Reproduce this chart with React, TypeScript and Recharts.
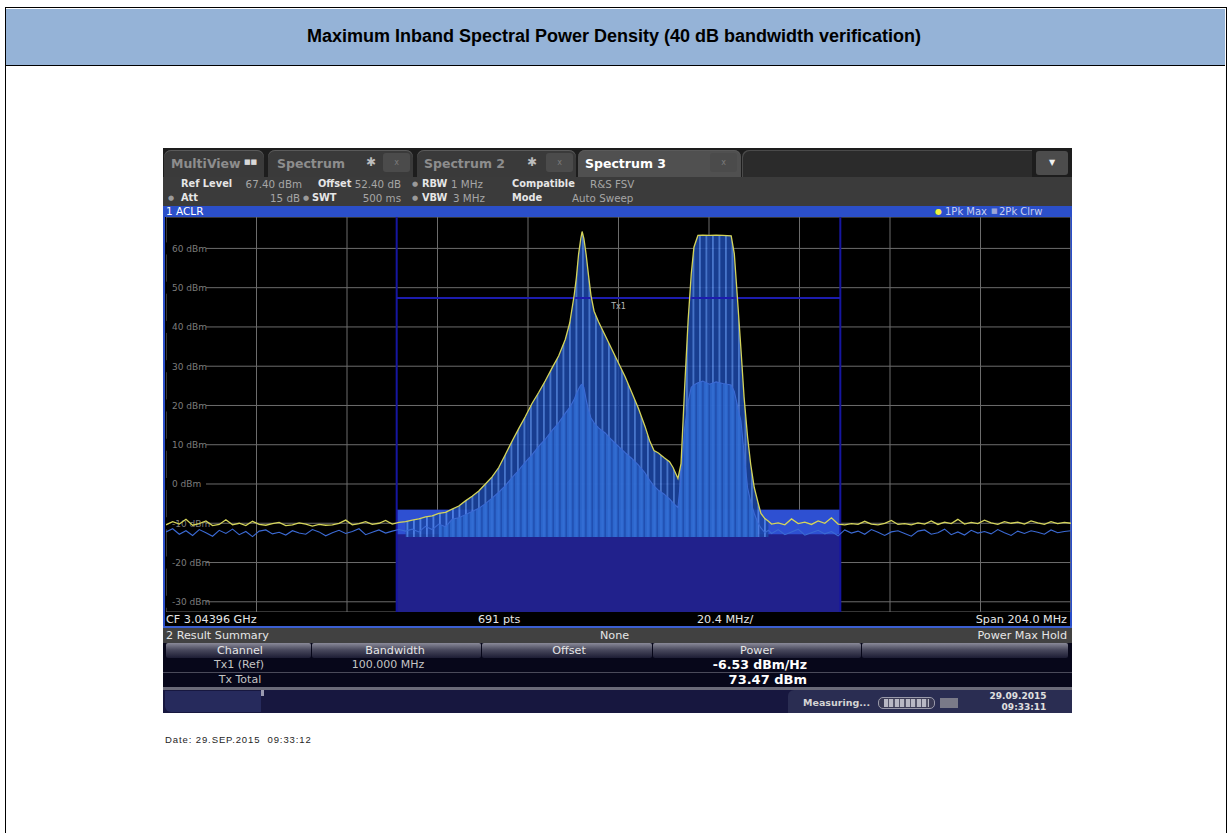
import React from 'react';
import {
  ComposedChart,
  Area,
  Line,
  XAxis,
  YAxis,
  CartesianGrid,
  ReferenceArea,
  ReferenceLine,
} from 'recharts';

// frequency offsets from CF 3.04396 GHz, in MHz (span 204 MHz)
const leftNoiseFreqs = [
  -102, -100.5, -99, -97.5, -96, -94.5, -93, -91.5, -90, -88.5, -87, -85.5, -84, -82.5, -81, -79.5, -78, -76.5,
  -75, -73.5, -72, -70.5, -69, -67.5, -66, -64.5, -63, -61.5, -60, -58.5, -57, -55.5, -54, -52.5, -51, -49.5,
];
const leftNoiseMax = [
  -10.4, -9.6, -10.2, -9.0, -10.5, -10.1, -9.4, -10.6, -10.3, -9.1, -10.4, -10.0, -10.6, -9.5, -10.3, -10.5, -10.1, -9.8,
  -10.6, -10.4, -9.9, -10.2, -10.7, -10.3, -10.5, -10.4, -10.0, -9.2, -10.4, -10.1, -9.6, -10.3, -10.0, -9.3, -10.2, -9.8,
];
const leftNoiseClrw = [
  -12.2, -11.4, -12.8, -11.9, -13.1, -11.6, -12.4, -13.3, -11.8, -12.6, -11.5, -12.9, -12.1, -13.4, -12.0, -11.7, -12.7, -12.3,
  -13.0, -11.9, -12.5, -12.8, -11.6, -12.2, -13.2, -12.4, -11.8, -12.6, -12.1, -11.4, -12.9, -12.3, -11.7, -12.5, -12.0, -11.6,
];

const signalFreqs = [
  -48, -46.5, -45, -43.5, -42, -40.5, -39, -37.5, -36, -34.5, -33, -31.5, -30, -28.5, -27, -25.5, -24, -22.5,
  -21, -19.5, -18, -16.5, -15, -13.5, -12, -11, -10, -9.5, -9, -8.5, -8.2, -7.8, -7.3, -6.8, -6.2, -5.5,
  -4.5, -3, -1.5, 0, 1.5, 3, 4.5, 6, 7, 8, 9, 10.3, 11.5, 12.3, 13.4, 14.1, 14.9, 15.7,
  16.4, 17, 17.9, 19, 20.5, 22, 23.5, 25.4, 26.1, 26.8, 27.6, 28.3, 29.1, 29.8, 30.6, 31.4, 32.1, 33, 33.8,
];
const signalMax = [
  -9.6, -9.2, -8.9, -8.4, -8.1, -7.5, -7.2, -6.4, -5.6, -4.3, -3.1, -1.8, 0.0, 1.8, 4.2, 7.5, 10.9, 14.1,
  17.2, 20.5, 23.3, 26.3, 29.5, 32.6, 36.8, 41.0, 48.0, 52.5, 58.5, 62.5, 64.3, 62.5, 58.5, 53.5, 48.0, 44.0,
  41.3, 37.8, 34.3, 30.8, 27.3, 23.3, 19.2, 14.6, 11.1, 8.5, 7.9, 6.7, 5.7, 4.2, 1.4, 5.2, 24.3, 41.8,
  53.5, 60.3, 63.3, 63.4, 63.3, 63.4, 63.3, 63.2, 58.7, 47.5, 34.3, 22.2, 11.9, 5.0, -0.9, -4.5, -7.5, -8.8, -9.5,
];
const signalClrw = [
  -12.0, -11.5, -12.2, -10.8, -11.6, -10.2, -10.9, -9.0, -8.6, -7.8, -7.0, -6.2, -5.0, -3.6, -2.1, -0.4, 1.6, 3.5,
  5.6, 7.4, 9.6, 11.4, 13.6, 15.6, 18.0, 19.5, 21.5, 23.0, 24.2, 25.2, 25.4, 24.6, 21.5, 19.0, 16.8, 15.6,
  14.3, 13.0, 11.2, 9.6, 8.0, 6.5, 4.8, 2.8, 1.0, -0.5, -1.6, -2.6, -3.8, -4.8, -6.0, 2.0, 14.0, 21.0,
  24.6, 25.2, 25.8, 26.2, 25.4, 26.0, 25.6, 25.2, 23.6, 20.0, 16.0, 8.0, -1.0, -4.5, -7.5, -9.8, -11.2, -12.4, -11.8,
];

const rightNoiseFreqs = [
  34.5, 36, 37.5, 39, 40.5, 42, 43.5, 45, 46.5, 48, 49.5, 51, 52.5, 54, 55.5, 57, 58.5, 60, 61.5, 63, 64.5, 66, 67.5,
  69, 70.5, 72, 73.5, 75, 76.5, 78, 79.5, 81, 82.5, 84, 85.5, 87, 88.5, 90, 91.5, 93, 94.5, 96, 97.5, 99, 100.5, 102,
];
const rightNoiseMax = [
  -10.2, -9.9, -10.4, -8.9, -10.1, -9.7, -10.3, -9.4, -10.0, -8.6, -10.2, -10.4, -10.1, -10.3, -9.5, -10.2, -10.4, -10.0,
  -9.3, -10.3, -10.1, -10.4, -9.9, -10.2, -9.4, -10.3, -9.7, -10.1, -9.0, -10.2, -9.8, -10.1, -9.2, -9.9, -10.3, -9.6,
  -10.0, -9.7, -10.2, -9.4, -9.9, -10.3, -9.6, -10.1, -9.8, -10.0,
];
const rightNoiseClrw = [
  -12.6, -11.6, -12.9, -12.2, -11.5, -13.0, -12.4, -11.8, -12.7, -12.1, -13.2, -11.7, -12.5, -12.0, -12.8, -11.6, -12.3, -13.1,
  -12.2, -11.9, -12.6, -13.3, -12.0, -11.7, -12.8, -12.4, -11.5, -12.9, -12.2, -13.0, -11.8, -12.5, -12.1, -12.7, -11.6, -12.4,
  -13.1, -12.0, -12.6, -11.9, -12.3, -12.8, -11.7, -12.4, -12.1, -11.9,
];

const freqTicks = [-102, -81.6, -61.2, -40.8, -20.4, 0, 20.4, 40.8, 61.2, 81.6, 102];
const levelTicks = [-30, -20, -10, 0, 10, 20, 30, 40, 50, 60];
const refTop = 68;
const refBottom = -32.6;
const channel = [-50, 50];
const txLevel = 47.4;
const powerDensity = -6.53;
const innerRange = [-40.5, 31.4];
const fillFloor = -13.5;

const rows = [
  ...leftNoiseFreqs.map((f, i) => ({ f, maxHold: leftNoiseMax[i], clearWrite: leftNoiseClrw[i] })),
  ...signalFreqs.map((f, i) => ({
    f,
    maxHold: signalMax[i],
    clearWrite: signalClrw[i],
    envelope: signalMax[i],
    inner: f >= innerRange[0] && f <= innerRange[1] ? signalClrw[i] : undefined,
  })),
  ...rightNoiseFreqs.map((f, i) => ({ f, maxHold: rightNoiseMax[i], clearWrite: rightNoiseClrw[i] })),
];

const ui = '"DejaVu Sans", Verdana, sans-serif';

const T = ({ x, y, children, size = 11, color = '#e6e6e6', bold = false, anchor = 'start', font = ui, spacing }: any) => (
  <div
    style={{
      position: 'absolute',
      left: x,
      top: y - size * 0.6,
      fontSize: size,
      lineHeight: `${size * 1.2}px`,
      color,
      fontWeight: bold ? 700 : 400,
      fontFamily: font,
      whiteSpace: 'pre',
      letterSpacing: spacing,
      transform: anchor === 'middle' ? 'translateX(-50%)' : anchor === 'end' ? 'translateX(-100%)' : undefined,
    }}
  >
    {children}
  </div>
);

const Box = ({ x, y, w, h, bg, style }: any) => (
  <div style={{ position: 'absolute', left: x, top: y, width: w, height: h, background: bg, ...style }} />
);

// level label drawn at the left end of a grid line, on a black patch
const LevelLabel = (props: any) => {
  const { viewBox, level } = props;
  if (!viewBox) return null;
  const x = viewBox.x;
  const y = viewBox.y;
  return (
    <g>
      <rect x={x} y={y - 6} width={40} height={12} fill="#000" />
      <text x={x + 6} y={y + 3.3} fill="#7c7c7c" fontSize={9} fontFamily={ui}>
        {`${level} dBm`}
      </text>
    </g>
  );
};

const CloseBox = ({ x }: any) => (
  <div
    style={{
      position: 'absolute', left: x, top: 153, width: 27, height: 19, background: '#4b4b4b',
      borderRadius: 3, color: '#7a7a7a', fontSize: 8, lineHeight: '19px', textAlign: 'center', fontFamily: ui,
    }}
  >
    x
  </div>
);

const Tab = ({ x, w, bg = '#3a3a3a' }: any) => (
  <div
    style={{
      position: 'absolute', left: x, top: 150, width: w, height: 27, background: bg,
      borderRadius: '7px 7px 0 0', boxShadow: 'inset 0 1px 0 #5a5a5a',
    }}
  />
);

const SpectrumPlot = () => (
  <ComposedChart width={905} height={395} data={rows} margin={{ top: 0, right: 0, bottom: 0, left: 0 }}>
    <defs>
      <pattern id="outerStripes" patternUnits="userSpaceOnUse" width="6.5" height="10">
        <rect width="6.5" height="10" fill="#1b45a4" />
        <rect width="1.8" height="10" fill="#5185e6" />
      </pattern>
      <pattern id="innerStripes" patternUnits="userSpaceOnUse" width="6.5" height="10">
        <rect width="6.5" height="10" fill="#2f6bd2" />
        <rect x="3.2" width="1.2" height="10" fill="#1a45a6" />
      </pattern>
    </defs>
    <CartesianGrid stroke="#6c6c6c" strokeWidth={1} />
    <XAxis type="number" dataKey="f" domain={[freqTicks[0], freqTicks[freqTicks.length - 1]]} ticks={freqTicks} hide allowDataOverflow />
    <YAxis type="number" domain={[refBottom, refTop]} ticks={levelTicks} interval={0} hide allowDataOverflow />
    {levelTicks.map((v) => (
      <ReferenceLine key={v} y={v} stroke="none" zIndex={50} label={<LevelLabel level={v} />} />
    ))}
    <ReferenceArea x1={channel[0]} x2={channel[1]} y1={refBottom} y2={powerDensity} fill="#21218c" fillOpacity={1} stroke="none" zIndex={60} />
    <ReferenceArea x1={channel[0]} x2={channel[1]} y1={-12.8} y2={powerDensity} fill="#2e50d2" fillOpacity={1} stroke="none" zIndex={61} />
    <Area
      type="linear"
      dataKey="envelope"
      baseValue={fillFloor}
      fill="url(#outerStripes)"
      fillOpacity={0.88}
      stroke="none"
      dot={false}
      activeDot={false}
      isAnimationActive={false}
      zIndex={100}
    />
    <Area
      type="linear"
      dataKey="inner"
      baseValue={fillFloor}
      fill="url(#innerStripes)"
      fillOpacity={0.88}
      stroke="none"
      dot={false}
      activeDot={false}
      isAnimationActive={false}
      zIndex={101}
    />
    <ReferenceLine x={channel[0]} stroke="#1616a0" strokeWidth={2} zIndex={300} />
    <ReferenceLine x={channel[1]} stroke="#1616a0" strokeWidth={2} zIndex={300} />
    <ReferenceLine
      segment={[{ x: channel[0], y: txLevel }, { x: channel[1], y: txLevel }]}
      stroke="#1c1cae"
      strokeWidth={2}
      zIndex={300}
      label={{ value: 'Tx1', position: 'bottom', fill: '#b8b8b8', fontSize: 8, fontFamily: ui }}
    />
    <Line type="linear" dataKey="clearWrite" stroke="#3b6ad4" strokeWidth={1.1} dot={false} activeDot={false} isAnimationActive={false} zIndex={400} />
    <Line type="linear" dataKey="maxHold" stroke="#d4d45a" strokeWidth={1.3} dot={false} activeDot={false} isAnimationActive={false} zIndex={401} />
  </ComposedChart>
);

export default function App() {
  return (
    <div style={{ position: 'relative', width: 1228, height: 833, background: '#fff', overflow: 'hidden' }}>
      <style>{'body{margin:0}'}</style>
      {/* report frame */}
      <div
        style={{
          position: 'absolute', left: 5, top: 7, width: 1220, height: 840,
          borderLeft: '1.5px solid #000', borderRight: '1.5px solid #000', borderTop: '1.5px solid #000',
        }}
      />
      <Box x={6} y={8.5} w={1219} h={56.5} bg="#95b3d7" style={{ borderBottom: '1.5px solid #000' }} />
      <T x={614} y={37} size={18} bold color="#000" anchor="middle" font='"Liberation Sans", Arial, sans-serif'>
        Maximum Inband Spectral Power Density (40 dB bandwidth verification)
      </T>

      {/* analyzer screen */}
      <Box x={163} y={148} w={909} h={30} bg="#1d1d1d" />
      <Tab x={164} w={100} />
      <T x={171} y={163} size={12.5} bold color="#8d8d8d">MultiView</T>
      <T x={244} y={162} size={7} color="#d8d8d8">■■</T>
      <Tab x={268} w={145} />
      <T x={277} y={163} size={12.5} bold color="#8d8d8d">Spectrum</T>
      <T x={366} y={162} size={12} color="#bdbdbd">✱</T>
      <CloseBox x={383} />
      <Tab x={417} w={159} />
      <T x={424} y={163} size={12.5} bold color="#8d8d8d">Spectrum 2</T>
      <T x={527} y={162} size={12} color="#bdbdbd">✱</T>
      <CloseBox x={546} />
      <Tab x={578} w={163} bg="#505050" />
      <T x={585} y={163} size={12.5} bold color="#ffffff">Spectrum 3</T>
      <CloseBox x={710} />
      <Box x={742} y={150} w={290} h={27} bg="#2b2b2b" style={{ borderRadius: '7px 0 0 0', boxShadow: 'inset 1px 1px 0 #4a4a4a' }} />
      <Box x={1036} y={151} w={32} h={24} bg="#4c4c4c" style={{ borderRadius: 3 }} />
      <T x={1052} y={163} size={8} color="#f0f0f0" anchor="middle">▼</T>

      <Box x={163} y={177} w={909} h={29} bg="#3b3b3b" />
      <T x={181} y={184} size={9.8} bold>Ref Level</T>
      <T x={302} y={184} size={10.3} color="#a6a6a6" anchor="end">67.40 dBm</T>
      <T x={318} y={184} size={9.8} bold>Offset</T>
      <T x={401} y={184} size={10.3} color="#a6a6a6" anchor="end">52.40 dB</T>
      <T x={412} y={184} size={7} color="#9a9a9a">●</T>
      <T x={422} y={184} size={9.8} bold>RBW</T>
      <T x={451} y={184} size={10.3} color="#a6a6a6">1 MHz</T>
      <T x={512} y={184} size={9.8} bold>Compatible</T>
      <T x={590} y={184} size={10.3} color="#a6a6a6">R&amp;S FSV</T>
      <T x={168} y={198} size={7} color="#9a9a9a">●</T>
      <T x={181} y={198} size={9.8} bold>Att</T>
      <T x={300} y={198} size={10.3} color="#a6a6a6" anchor="end">15 dB</T>
      <T x={303} y={198} size={7} color="#9a9a9a">●</T>
      <T x={312} y={198} size={9.8} bold>SWT</T>
      <T x={401} y={198} size={10.3} color="#a6a6a6" anchor="end">500 ms</T>
      <T x={412} y={198} size={7} color="#9a9a9a">●</T>
      <T x={422} y={198} size={9.8} bold>VBW</T>
      <T x={453} y={198} size={10.3} color="#a6a6a6">3 MHz</T>
      <T x={512} y={198} size={9.8} bold>Mode</T>
      <T x={572} y={198} size={10.3} color="#a6a6a6">Auto Sweep</T>

      <Box x={163} y={206} w={909} h={11} bg="#2b4fc9" />
      <T x={166} y={211.5} size={10.5} color="#ffffff">1 ACLR</T>
      <T x={935} y={211.5} size={8} color="#f0f040">●</T>
      <T x={945} y={211.5} size={10} color="#c8d0f0">1Pk Max</T>
      <T x={991} y={211.5} size={7} color="#9aa6d8">■</T>
      <T x={999} y={211.5} size={10} color="#c8d0f0">2Pk Clrw</T>

      <Box x={163} y={217} w={909} h={410} bg="#000" style={{ borderLeft: '2px solid #2b4fc9', borderRight: '2px solid #2b4fc9', boxSizing: 'border-box' }} />
      <div style={{ position: 'absolute', left: 166, top: 217 }}>
        <SpectrumPlot />
      </div>

      <T x={166} y={619.5} size={11.2}>CF 3.04396 GHz</T>
      <T x={478} y={619.5} size={11.2}>691 pts</T>
      <T x={697} y={619.5} size={11.2}>20.4 MHz/</T>
      <T x={1067} y={619.5} size={11.2} anchor="end">Span 204.0 MHz</T>
      <Box x={163} y={626} w={909} h={2} bg="#3b5fd2" />

      <Box x={163} y={628} w={909} h={15} bg="#414141" />
      <T x={166} y={636} size={11.2}>2 Result Summary</T>
      <T x={600} y={636} size={11.2}>None</T>
      <T x={1067} y={636} size={11.2} anchor="end">Power Max Hold</T>

      <Box x={163} y={643} w={909} h={44} bg="#07071a" />
      {[[166, 146], [312, 170], [482, 171], [653, 209], [862, 207]].map(([x, w]) => (
        <Box key={x} x={x} y={643} w={w - 1} h={15} bg="linear-gradient(#8a8a98, #4a4a5e 45%, #1c1c34)" style={{ borderRadius: 2 }} />
      ))}
      <T x={240} y={651} size={11.2} anchor="middle">Channel</T>
      <T x={395} y={651} size={11.2} anchor="middle">Bandwidth</T>
      <T x={569} y={651} size={11.2} anchor="middle">Offset</T>
      <T x={757} y={651} size={11.2} anchor="middle">Power</T>
      <T x={239} y={665} size={11} color="#c4c4c4" anchor="middle">Tx1 (Ref)</T>
      <T x={388} y={665} size={11} color="#c4c4c4" anchor="middle">100.000 MHz</T>
      <T x={807} y={664.5} size={12.5} bold color="#ffffff" anchor="end">-6.53 dBm/Hz</T>
      <Box x={163} y={672} w={909} h={1} bg="#4a4a5a" />
      <T x={240} y={679.5} size={11} color="#c4c4c4" anchor="middle">Tx Total</T>
      <T x={807} y={679.5} size={13} bold color="#ffffff" anchor="end">73.47 dBm</T>
      <Box x={163} y={687} w={909} h={3} bg="#6a6a78" />

      <Box x={163} y={690} w={909} h={23} bg="#17173f" />
      <Box x={165} y={691} w={96} h={21} bg="#262a5c" style={{ borderRadius: '0 0 0 6px' }} />
      <Box x={261} y={690} w={3} h={6} bg="#9a9ab0" />
      <Box x={788} y={690} w={284} h={23} bg="#2a2d52" style={{ borderRadius: '6px 0 0 0' }} />
      <T x={803} y={703} size={9.5} bold color="#d4d4d4">Measuring...</T>
      <Box x={878} y={697} w={57} h={12} bg="#3a3a55" style={{ border: '1px solid #9a9aaa', borderRadius: 5, boxSizing: 'border-box' }} />
      <Box x={884} y={699} w={45} h={8} bg="repeating-linear-gradient(90deg, #b8b8c4 0 4px, #55556a 4px 5.5px)" />
      <Box x={940} y={698} w={18} h={10} bg="#7a7a88" />
      <T x={1018} y={696} size={9} bold color="#e0e0e0" anchor="middle">29.09.2015</T>
      <T x={1024} y={707} size={9} bold color="#e0e0e0" anchor="middle">09:33:11</T>

      <T x={165} y={740} size={9.5} spacing={0.9} color="#1e1e1e" font='"Liberation Sans", Arial, sans-serif'>Date: 29.SEP.2015  09:33:12</T>
    </div>
  );
}
